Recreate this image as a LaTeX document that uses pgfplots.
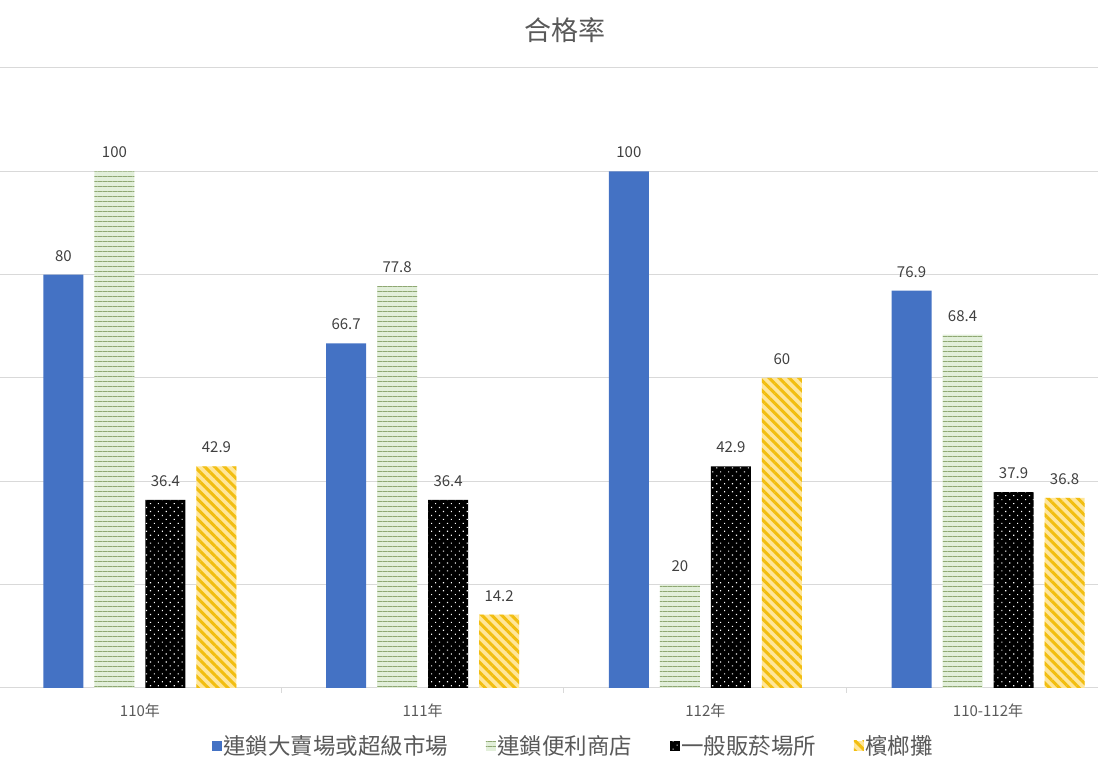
\documentclass[border=0pt]{standalone}
\usepackage{pgfplots}
\pgfplotsset{compat=1.18}
\usepackage{fontspec}
\setmainfont{Noto Sans CJK TC}
\usetikzlibrary{patterns.meta}
\definecolor{cblue}{HTML}{4472C4}
\definecolor{cgreenbg}{HTML}{E2EFDA}
\definecolor{cgreenln}{HTML}{8FA872}
\definecolor{cyelbg}{HTML}{FFE699}
\definecolor{cyelln}{HTML}{F2BE10}
\definecolor{cgrid}{HTML}{D9D9D9}
\definecolor{ctext}{HTML}{595959}
\definecolor{clabel}{HTML}{404040}
\begin{document}
\begin{tikzpicture}
\path[use as bounding box] (0pt,0pt) rectangle (1098pt,757pt);
\begin{axis}[
  at={(0pt,69pt)}, anchor=south west,
  scale only axis, width=1098pt, height=620pt,
  ybar=11pt, bar width=40pt,
  xmin=-0.495, xmax=3.389, ymin=0, ymax=120,
  ytick={0,20,...,120}, yticklabels={}, ymajorgrids,
  grid style={cgrid, line width=1pt},
  major y tick style={draw=none},
  axis line style={draw=none},
  xtick={0,1,2,3},
  xticklabels={110年,111年,112年,110-112年},
  major x tick style={draw=none},
  extra x ticks={0.5,1.5,2.5},
  extra x tick labels={},
  extra x tick style={tick align=outside, major tick length=5pt, major x tick style={draw=cgrid, line width=1pt}},
  xtick pos=bottom,
  xticklabel style={font=\fontsize{15}{18}\selectfont, text=ctext, anchor=north, inner sep=0pt, yshift=-11pt},
  /pgf/number format/assume math mode=true,
  /pgf/number format/precision=1,
  nodes near coords,
  nodes near coords style={font=\fontsize{15}{18}\selectfont, text=clabel, inner sep=0pt, anchor=base, yshift=13.5pt},
  legend image code/.code={\path[#1,draw=none] (0pt,-5pt) rectangle (10pt,5pt);},
  legend style={at={(0.5219,-0.0935)}, anchor=center, draw=none, fill=none,
    legend columns=4, font=\fontsize{22.5}{26}\selectfont, text=ctext,
    nodes={inner sep=1.5pt},
    /tikz/every even column/.append style={column sep=36pt},
    /tikz/every odd column/.append style={column sep=0pt}},
  legend cell align=left,
  clip=false,
]
\addplot[fill=cblue, draw=none] coordinates {(0,80) (1,66.7) (2,100) (3,76.9)};
\addplot[fill=cgreenbg, draw=none, postaction={pattern={Lines[angle=0,distance=5pt,line width=1pt]}, pattern color=cgreenln}] coordinates {(0,100) (1,77.8) (2,20) (3,68.4)};
\addplot[fill=black, draw=none, postaction={pattern={Dots[angle=45,distance=5.6pt,radius=0.8pt]}, pattern color=white}] coordinates {(0,36.4) (1,36.4) (2,42.9) (3,37.9)};
\addplot[fill=cyelbg, draw=none, postaction={pattern={Lines[angle=-45,distance=7pt,line width=3pt]}, pattern color=cyelln}] coordinates {(0,42.9) (1,14.2) (2,60) (3,36.8)};
\legend{連鎖大賣場或超級市場,連鎖便利商店,一般販菸場所,檳榔攤}
\end{axis}
\node[font=\fontsize{27}{32}\selectfont, text=ctext] at (565pt,727pt) {合格率};
\end{tikzpicture}
\end{document}
